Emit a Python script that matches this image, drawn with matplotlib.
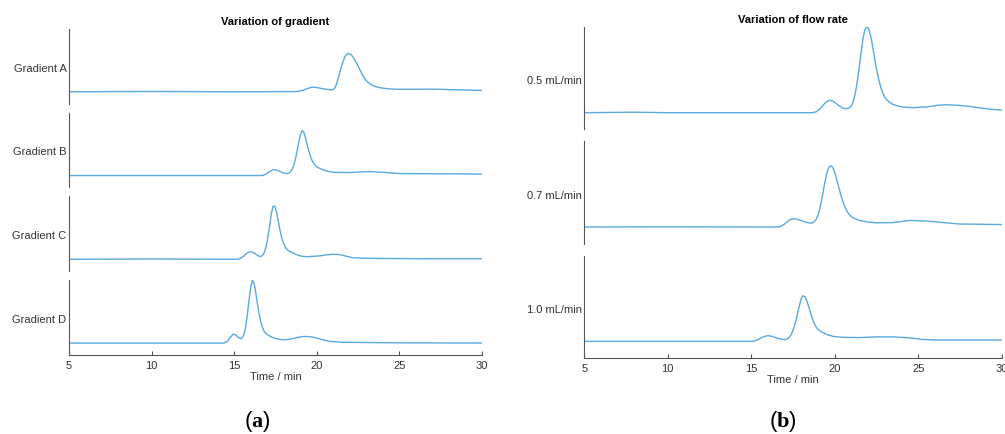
import matplotlib.pyplot as plt

plt.rcParams['font.family'] = ['Liberation Sans', 'DejaVu Sans']
plt.rcParams['mathtext.fontset'] = 'custom'
plt.rcParams['mathtext.rm'] = 'Liberation Serif'
plt.rcParams['mathtext.bf'] = 'Liberation Serif:bold'

#%% Data: (time / min, signal above baseline, arb. units)
grad_labels = ['Gradient A', 'Gradient B', 'Gradient C', 'Gradient D']

grad_a = [(5, 0), (10, 0.3), (15, 0), (18.8, 0.2), (19.1, 1.2), (19.4, 3), (19.6, 4.2),
          (19.8, 4.6), (20.0, 4.3), (20.3, 3.3), (20.6, 2.4), (20.85, 2.0), (21.0, 2.2),
          (21.1, 4), (21.2, 8), (21.3, 14), (21.4, 20), (21.5, 26), (21.6, 31), (21.7, 35),
          (21.8, 37.5), (21.9, 38.3), (22.0, 38), (22.1, 36.8), (22.2, 34.8), (22.3, 32),
          (22.4, 29), (22.5, 26), (22.6, 22.5), (22.7, 19), (22.8, 16), (22.9, 13.3),
          (23.0, 11.2), (23.2, 8), (23.4, 6.2), (23.6, 5), (23.8, 4.2), (24.0, 3.6),
          (24.5, 2.8), (25, 2.5), (26, 2.5), (27, 2.7), (28, 2.2), (29, 1.8), (30, 1.3)]
grad_b = [(5, 0), (10, 0), (15, 0), (16.7, 0), (16.9, 1.2), (17.1, 3.5), (17.3, 5.6),
          (17.45, 6), (17.6, 5.3), (17.8, 3.8), (18.0, 2.5), (18.2, 2), (18.35, 2.8),
          (18.5, 6), (18.6, 10), (18.7, 16), (18.8, 24), (18.9, 33), (19.0, 40.5),
          (19.1, 45), (19.2, 44), (19.3, 39), (19.4, 32), (19.5, 25.5), (19.6, 20),
          (19.7, 15.5), (19.8, 12.5), (19.9, 10.3), (20.0, 8.8), (20.2, 7), (20.4, 5.6),
          (20.6, 4.6), (20.8, 3.8), (21.0, 3.3), (22.0, 3), (23.2, 4), (24.2, 3), (25, 2),
          (27, 1.8), (30, 1.5)]
grad_c = [(5, 0), (10, 0.3), (15.2, 0), (15.4, 1.2), (15.6, 3.5), (15.8, 6.5), (16.0, 7.6),
          (16.2, 6.5), (16.4, 4), (16.6, 2.6), (16.75, 4.5), (16.85, 8), (16.95, 14),
          (17.05, 23), (17.15, 34), (17.25, 46), (17.35, 53), (17.45, 53.5), (17.55, 48),
          (17.65, 40), (17.75, 31), (17.85, 23.5), (17.95, 17.5), (18.05, 13.5),
          (18.15, 10.8), (18.3, 8.5), (18.5, 6.8), (18.8, 4.5), (19.1, 3), (19.4, 2.6),
          (19.8, 3), (20.2, 3.5), (20.6, 4.5), (21.0, 5), (21.4, 4.7), (21.8, 3),
          (22.2, 1.5), (23, 1), (24, 0.8), (27, 0.5), (30, 0.5)]
grad_d = [(5, 0), (10, 0), (14.4, 0), (14.6, 2), (14.8, 6.5), (14.95, 9), (15.1, 8),
          (15.25, 5.5), (15.4, 4.3), (15.5, 5.5), (15.6, 9), (15.7, 17), (15.8, 29),
          (15.9, 43), (16.0, 56), (16.1, 63), (16.2, 60), (16.3, 51), (16.4, 40),
          (16.5, 30), (16.6, 22), (16.7, 16), (16.8, 12.3), (16.9, 10), (17.0, 8.4),
          (17.2, 6.5), (17.5, 4.5), (17.9, 3.3), (18.3, 3.6), (18.8, 5.5), (19.2, 6.6),
          (19.6, 6.4), (20.0, 5), (20.4, 3), (20.8, 1.6), (21.5, 0.8), (25, 0.2), (30, 0)]

flow_labels = ['0.5 mL/min', '0.7 mL/min', '1.0 mL/min']

flow_05 = [(5, 0), (8, 0.5), (10, 0), (15, 0), (18.7, 0), (18.9, 1), (19.1, 3.5), (19.3, 7.5),
           (19.5, 11), (19.7, 12.6), (19.9, 11.5), (20.1, 9), (20.3, 6.5), (20.5, 4.5),
           (20.7, 4), (20.9, 5), (21.0, 7), (21.1, 11), (21.2, 17), (21.3, 26), (21.4, 37),
           (21.5, 50), (21.6, 63), (21.7, 75), (21.8, 83), (21.9, 86), (22.0, 85),
           (22.1, 80.5), (22.2, 73), (22.3, 63.5), (22.4, 53.5), (22.5, 44), (22.6, 36),
           (22.7, 29), (22.8, 23.5), (22.9, 19), (23.0, 15.5), (23.2, 11.5), (23.4, 9),
           (23.7, 7), (24.1, 5.6), (24.7, 5), (25.5, 5.8), (26.2, 7.5), (26.7, 8),
           (27.3, 7.5), (28, 6.5), (28.6, 5), (29.3, 3.5), (30, 2.6)]
flow_07 = [(5, 0), (10, 0.2), (15, 0), (16.6, 0), (16.8, 1), (17.0, 3), (17.2, 6), (17.4, 8),
           (17.6, 8.3), (17.8, 7.5), (18.1, 5.8), (18.4, 4.3), (18.6, 4), (18.75, 5),
           (18.9, 8), (19.0, 12), (19.1, 18), (19.2, 26), (19.3, 35), (19.4, 44), (19.5, 52),
           (19.6, 58), (19.7, 61), (19.8, 61.3), (19.9, 59), (20.0, 55), (20.1, 49),
           (20.2, 42.5), (20.3, 36), (20.4, 30), (20.5, 25), (20.6, 20.5), (20.7, 17),
           (20.8, 14), (21.0, 10.5), (21.2, 8.5), (21.5, 6.5), (22.0, 5), (22.5, 4.2),
           (23.5, 4.5), (24.5, 6.6), (25.5, 6), (26.5, 4.5), (27.5, 3), (30, 2.5)]
flow_10 = [(5, 0), (10, 0), (15.1, 0), (15.3, 1), (15.6, 3.5), (15.8, 5), (16.0, 5.7),
           (16.25, 5), (16.5, 3.5), (16.8, 2.2), (17.0, 1.7), (17.15, 2.5), (17.3, 4.5),
           (17.4, 7), (17.5, 11), (17.6, 16), (17.7, 22.5), (17.8, 30), (17.9, 37),
           (18.0, 43), (18.1, 45.7), (18.2, 45), (18.3, 42), (18.4, 37), (18.5, 31.5),
           (18.6, 26), (18.7, 21), (18.8, 17), (18.9, 14), (19.0, 12), (19.2, 9.5),
           (19.5, 7), (19.9, 5), (20.5, 4), (21.5, 3.8), (22.5, 4.5), (23.5, 4.5),
           (24.5, 3.5), (25.2, 2), (25.9, 1.4), (30, 1.3)]

line_color = '#5aa9e0'
axis_color = '#555555'
text_color = '#333333'

def draw_stack(fig, left, right, top, bottom, gap, labels, traces, ylim, title):
    n = len(labels)
    W, H = 1005.0, 434.0
    h = (bottom - top - gap * (n - 1)) / n
    for i in range(n):
        y0 = top + i * (h + gap)
        ax = fig.add_axes([left / W, 1 - (y0 + h) / H, (right - left) / W, h / H])
        t = [p[0] for p in traces[i]]
        y = [p[1] for p in traces[i]]
        ax.plot(t, y, color=line_color, lw=1.0)
        ax.set_xlim(5, 30)
        ax.set_ylim(*ylim)
        for s in ['top', 'right']:
            ax.spines[s].set_visible(False)
        ax.spines['left'].set_color(axis_color)
        ax.set_yticks([])
        ax.set_ylabel(labels[i], rotation=0, ha='right', va='center',
                      fontsize=8, color=text_color)
        ax.yaxis.set_label_coords(-2.5 / (right - left), 0.47)
        if i == n - 1:
            ax.spines['bottom'].set_color(axis_color)
            ax.set_xticks([5, 10, 15, 20, 25, 30])
            ax.tick_params(axis='x', direction='in', length=3, colors=axis_color,
                           labelsize=8, labelcolor=text_color, pad=4)
            ax.set_xlabel('Time / min', fontsize=8, color=text_color, labelpad=1)
        else:
            ax.spines['bottom'].set_visible(False)
            ax.set_xticks([])
        if i == 0:
            ax.set_title(title, fontsize=8, fontweight='bold', pad=3)

fig = plt.figure(figsize=(10.05, 4.34), dpi=100)
draw_stack(fig, 69, 482, 29, 355, 9, grad_labels, [grad_a, grad_b, grad_c, grad_d],
           (-12, 63), 'Variation of gradient')
draw_stack(fig, 584.3, 1001.7, 27, 358, 12, flow_labels, [flow_05, flow_07, flow_10],
           (-16.7, 86), 'Variation of flow rate')

fig.text(257.5 / 1005, 1 - 422 / 434, r'($\mathbf{a}$)', ha='center', va='center', fontsize=16)
fig.text(782.5 / 1005, 1 - 422 / 434, r'($\mathbf{b}$)', ha='center', va='center', fontsize=16)

fig.savefig('out.png', dpi=100)
